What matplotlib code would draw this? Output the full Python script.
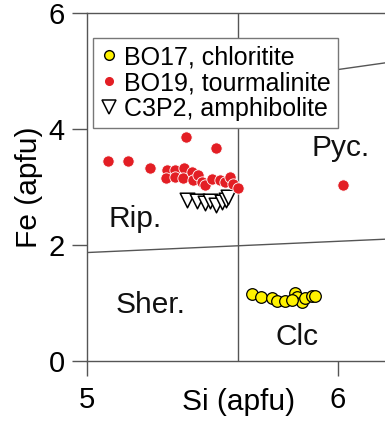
import matplotlib
matplotlib.use("Agg")
import matplotlib.pyplot as plt
from matplotlib.lines import Line2D

plt.rcParams['font.family'] = ['Liberation Sans', 'DejaVu Sans']

# BO17, chloritite
si_bo17 = [5.656, 5.692, 5.736, 5.758, 5.789, 5.829, 5.835, 5.855, 5.869, 5.895, 5.908, 5.815]
fe_bo17 = [1.155, 1.10, 1.08, 1.04, 1.04, 1.17, 1.10, 1.02, 1.08, 1.12, 1.12, 1.06]
# BO19, tourmalinite
si_bo19 = [5.085, 5.165, 5.252, 5.393, 5.513, 5.318, 5.351, 5.388, 5.314, 5.351,
           5.384, 5.417, 5.424, 5.443, 5.457, 5.470, 5.497, 5.530, 5.550, 5.570,
           5.583, 5.603, 6.021]
fe_bo19 = [3.44, 3.45, 3.32, 3.87, 3.68, 3.29, 3.29, 3.33, 3.16, 3.18,
           3.15, 3.26, 3.12, 3.21, 3.09, 3.03, 3.14, 3.12, 3.09, 3.18,
           3.06, 2.98, 3.03]
# C3P2, amphibolite
si_c3p2 = [5.398, 5.438, 5.470, 5.490, 5.514, 5.538, 5.554, 5.562]
fe_c3p2 = [2.78, 2.76, 2.72, 2.76, 2.69, 2.74, 2.77, 2.82]

# field boundaries
x_div = [5.6, 5.6]
y_div = [0, 6]
x_low = [5.0, 6.187]
y_low = [1.87, 2.10]
x_up = [5.6, 6.187]
y_up = [4.78, 5.14]

fields = ['Rip.', 'Sher.', 'Clc', 'Pyc.']
field_x = [5.19, 5.255, 5.835, 6.010]
field_y = [2.45, 0.96, 0.41, 3.67]

line_c = '#555555'

fig = plt.figure(figsize=(3.85, 4.23), dpi=100)
ax = fig.add_axes([87 / 385, 62 / 423, 1 - 87 / 385, 348 / 423])

ax.plot(x_div, y_div, color=line_c, lw=1)
ax.plot(x_low, y_low, color=line_c, lw=1)
ax.plot(x_up, y_up, color=line_c, lw=1)

ax.scatter(si_c3p2, fe_c3p2, marker='v', s=110, facecolor='white', edgecolor='black', lw=1.1, zorder=3)
ax.scatter(si_bo19, fe_bo19, marker='o', s=66, facecolor='#e31e24', edgecolor='white', lw=0.6, zorder=4)
ax.scatter(si_bo17, fe_bo17, marker='o', s=70, facecolor='#fff200', edgecolor='black', lw=0.9, zorder=5)

for name, fx, fy in zip(fields, field_x, field_y):
    ax.text(fx, fy, name, fontsize=21.5, ha='center', va='center', color='#111111')

ax.set_xlim(5, 6.187)
ax.set_ylim(0, 6)
ax.set_xticks([5, 6])
ax.set_yticks([0, 2, 4, 6])
ax.tick_params(direction='out', length=11, width=1, color=line_c, labelsize=21, pad=5)
ax.tick_params(axis='x', pad=7)
ax.spines['right'].set_visible(False)
for s in ['left', 'bottom', 'top']:
    ax.spines[s].set_color(line_c)
    ax.spines[s].set_linewidth(1)

ax.set_xlabel('Si (apfu)', fontsize=21.5, va='center')
ax.xaxis.set_label_coords(0.507, -0.117)
ax.set_ylabel('Fe (apfu)', fontsize=21.5, labelpad=4)

handles = [
    Line2D([], [], ls='none', marker='o', ms=7, mfc='#fff200', mec='black', mew=1),
    Line2D([], [], ls='none', marker='o', ms=5.5, mfc='#e31e24', mec='#e31e24'),
    Line2D([], [], ls='none', marker='v', ms=10, mfc='white', mec='black', mew=1.1),
]
labels = ['BO17, chloritite', 'BO19, tourmalinite', 'C3P2, amphibolite']
leg = ax.legend(handles, labels, loc='upper left', bbox_to_anchor=(93 / 385, 1 - 38 / 423),
                bbox_transform=fig.transFigure, borderaxespad=0, fontsize=18,
                handlelength=0.7, handletextpad=0.25, labelspacing=0.08,
                borderpad=0.28, fancybox=False, framealpha=1)
leg.get_frame().set_edgecolor('#777777')
leg.get_frame().set_linewidth(1)

fig.savefig('out.png', dpi=100)
